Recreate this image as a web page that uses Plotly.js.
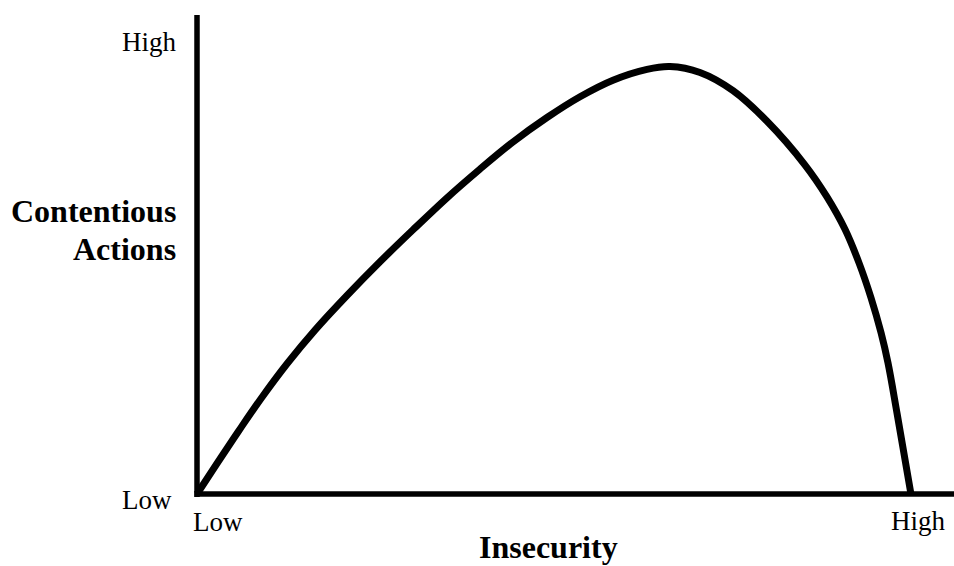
<!DOCTYPE html>
<html>
<head>
<meta charset="utf-8">
<script src="https://cdn.plot.ly/plotly-3.0.1.min.js"></script>
<style>html,body{margin:0;padding:0;background:#fff;}#chart{width:954px;height:566px;}</style>
</head>
<body>
<div id="chart"></div>
<script>
// Conceptual curve: Insecurity (0 = low, 100 = high) vs Contentious Actions (0 = low, 100 = high)
const insecurity = [0, 2.65, 5.57, 8.62, 11.94, 15.65, 19.89, 24.27, 28.65, 33.16, 37.53, 41.91, 46.42, 50.80, 55.17, 59.68, 62.73, 66.71, 71.09, 75.60, 80.64, 83.55, 85.94, 87.80, 89.39, 90.72, 91.64, 92.84, 94.69];
const contention = [0, 6.37, 13.26, 20.21, 27.20, 34.22, 41.44, 48.48, 55.16, 61.84, 67.83, 73.49, 78.60, 82.94, 86.39, 88.66, 89.25, 88.00, 84.20, 77.81, 68.68, 62.03, 55.26, 48.25, 40.98, 33.67, 27.39, 16.87, 0];
const xTickLabels = ['Low', 'High'];
const yTickLabels = ['Low', 'High'];
const xTitle = 'Insecurity';
const yTitleLines = ['Contentious', 'Actions'];

// pixel helpers for layout placement only
const L = 180, R = 0, T = 5, B = 50, W = 954, H = 566;
const dx = px => (px - 197) / 7.54;
const dy = py => (494 - py) / 4.79;
const px2paper = px => (px - L) / (W - L - R);
const py2paper = py => (H - B - py) / (H - T - B);

const serif = '"Liberation Serif", "Times New Roman", Times, serif';
const tickFont = {family: serif, size: 27, color: '#000'};
const titleFont = {family: serif, size: 32, color: '#000'};

const trace = {
  x: insecurity, y: contention, type: 'scatter', mode: 'lines',
  line: {color: '#000', width: 7, shape: 'spline', smoothing: 1},
  hoverinfo: 'skip'
};

const annotations = [
  {x: px2paper(178), y: py2paper(42), xanchor: 'right', yanchor: 'middle', text: yTickLabels[1], font: tickFont},
  {x: px2paper(173), y: py2paper(500), xanchor: 'right', yanchor: 'middle', text: yTickLabels[0], font: tickFont},
  {x: px2paper(192), y: py2paper(522), xanchor: 'left', yanchor: 'middle', text: xTickLabels[0], font: tickFont},
  {x: px2paper(947), y: py2paper(521), xanchor: 'right', yanchor: 'middle', text: xTickLabels[1], font: tickFont},
  {x: px2paper(548.5), y: py2paper(547), xanchor: 'center', yanchor: 'middle', text: '<b>' + xTitle + '</b>', font: titleFont},
  {x: px2paper(177), y: py2paper(211), xanchor: 'right', yanchor: 'middle', text: '<b>' + yTitleLines[0] + '</b>', font: titleFont},
  {x: px2paper(177), y: py2paper(249), xanchor: 'right', yanchor: 'middle', text: '<b>' + yTitleLines[1] + '</b>', font: titleFont}
].map(a => Object.assign({xref: 'paper', yref: 'paper', showarrow: false, borderpad: 0}, a));

const layout = {
  width: W, height: H,
  margin: {l: L, r: R, t: T, b: B, pad: 0},
  paper_bgcolor: '#fff', plot_bgcolor: '#fff',
  showlegend: false,
  xaxis: {range: [dx(L), dx(W - R)], visible: false, showgrid: false, zeroline: false, fixedrange: true},
  yaxis: {range: [dy(H - B), dy(T)], visible: false, showgrid: false, zeroline: false, fixedrange: true},
  shapes: [
    {type: 'line', xref: 'x', yref: 'y', x0: 0, x1: 0, y0: dy(497), y1: dy(15), line: {color: '#000', width: 5.5}},
    {type: 'line', xref: 'x', yref: 'y', x0: dx(194.5), x1: dx(954), y0: 0, y1: 0, line: {color: '#000', width: 5.5}}
  ],
  annotations: annotations
};

Plotly.newPlot('chart', [trace], layout, {displayModeBar: false, staticPlot: true});
</script>
</body>
</html>
